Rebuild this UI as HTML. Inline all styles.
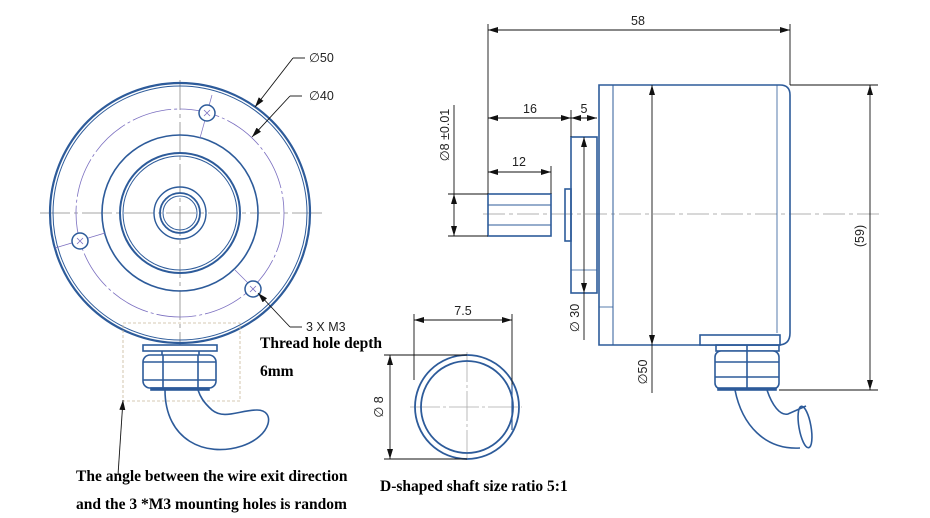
<!DOCTYPE html>
<html><head><meta charset="utf-8"><style>
html,body{margin:0;padding:0;background:#fff;}
svg{display:block;}
.s{font-family:"Liberation Sans",sans-serif;font-size:12.5px;fill:#222;}
.t{font-family:"Liberation Serif",serif;font-size:15.5px;font-weight:bold;fill:#000;}
</style></head><body>
<svg width="930" height="518" viewBox="0 0 930 518" xmlns="http://www.w3.org/2000/svg">
<defs>
<marker id="a" viewBox="0 0 10 6" refX="10" refY="3" markerWidth="10" markerHeight="6" orient="auto-start-reverse" markerUnits="userSpaceOnUse"><path d="M0,0 L10,3 L0,6 z" fill="#111"/></marker>
</defs>
<!-- FRONT VIEW -->
<g fill="none">
<line x1="40" y1="213" x2="322" y2="213" stroke="#888" stroke-width="0.8" stroke-dasharray="30,4,4,4"/>
<line x1="180" y1="80" x2="180" y2="345" stroke="#888" stroke-width="0.8" stroke-dasharray="30,4,4,4"/>
<circle cx="180" cy="213" r="130" stroke="#2d5b9a" stroke-width="2.2"/>
<circle cx="180" cy="213" r="127" stroke="#2d5b9a" stroke-width="1"/>
<circle cx="180" cy="213" r="104" stroke="#7b6fc0" stroke-width="0.8" stroke-dasharray="40,3,3,3"/>
<circle cx="180" cy="213" r="78" stroke="#2d5b9a" stroke-width="1.6"/>
<circle cx="180" cy="213" r="60" stroke="#2d5b9a" stroke-width="2"/>
<circle cx="180" cy="213" r="57" stroke="#2d5b9a" stroke-width="1"/>
<circle cx="180" cy="213" r="26" stroke="#2d5b9a" stroke-width="1.4"/>
<circle cx="180" cy="213" r="20" stroke="#2d5b9a" stroke-width="1.8"/>
<circle cx="180" cy="213" r="17" stroke="#2d5b9a" stroke-width="1"/>
<line x1="212" y1="95" x2="200" y2="138" stroke="#7b6fc0" stroke-width="0.7"/>
<line x1="55" y1="248" x2="105" y2="233" stroke="#7b6fc0" stroke-width="0.7"/>
<line x1="235" y1="270" x2="265" y2="300" stroke="#7b6fc0" stroke-width="0.7"/>
<g stroke="#2d5b9a" stroke-width="1.5" fill="#fff">
<circle cx="207" cy="113" r="8"/><circle cx="80" cy="241" r="8"/><circle cx="253" cy="289" r="8"/>
</g>
<g stroke="#7b6fc0" stroke-width="0.8">
<path d="M204,110 l6,6 M210,110 l-6,6 M77,238 l6,6 M83,238 l-6,6 M250,286 l6,6 M256,286 l-6,6"/>
</g>
<rect x="123" y="323" width="117" height="78" stroke="#c8b79a" stroke-width="0.8" stroke-dasharray="3,2"/>
<g stroke="#2d5b9a" stroke-width="1.6" fill="#fff">
<rect x="143" y="345" width="74" height="6"/>
<rect x="143" y="355" width="73" height="33" rx="7"/>
<line x1="143" y1="362" x2="216" y2="362"/><line x1="143" y1="380" x2="216" y2="380"/>
<line x1="163" y1="355" x2="163" y2="388"/><line x1="198" y1="355" x2="198" y2="388"/>
<line x1="162" y1="351" x2="162" y2="355"/><line x1="199" y1="351" x2="199" y2="355"/>
<rect x="151" y="388" width="58" height="2" fill="#2d5b9a"/>
<path d="M165,390 C165,440 205,458 242,446 C272,436 276,410 257,410 C240,410 224,420 212,410 C203,402 200,396 198,390" fill="none"/>
</g>
</g>
<g stroke="#111" stroke-width="0.9" fill="none">
<polyline points="293,58 305,58"/><line x1="293" y1="58" x2="255" y2="107" marker-end="url(#a)"/>
<polyline points="290,96 302,96"/><line x1="290" y1="96" x2="252" y2="137" marker-end="url(#a)"/>
<polyline points="290,327 302,327"/><line x1="290" y1="327" x2="258" y2="293" marker-end="url(#a)"/>
<line x1="118" y1="475" x2="123" y2="400" marker-end="url(#a)"/>
</g>
<text class="s" x="309" y="62">∅50</text>
<text class="s" x="309" y="100">∅40</text>
<text class="s" x="306" y="331">3 X M3</text>
<text class="t" x="260" y="348">Thread hole depth</text>
<text class="t" x="260" y="376">6mm</text>
<text class="t" x="76" y="481">The angle between the wire exit direction</text>
<text class="t" x="76" y="509">and the 3 *M3 mounting holes is random</text>

<!-- SIDE VIEW -->
<line x1="483" y1="214" x2="882" y2="214" stroke="#999" stroke-width="0.8" stroke-dasharray="22,4,4,4"/>
<g stroke="#2d5b9a" stroke-width="1.6" fill="none">
<path d="M599,85 L780,85 Q790,85 790,95 L790,333 Q790,345 778,345 L599,345 Z"/>
<line x1="613" y1="85" x2="613" y2="345" stroke-width="1"/>
<line x1="777" y1="85" x2="777" y2="333" stroke-width="0.8"/>
<line x1="599" y1="307" x2="613" y2="307" stroke-width="0.8"/>
<rect x="571" y="137" width="26" height="156"/>
<line x1="571" y1="270" x2="597" y2="270" stroke-width="0.8"/>
<rect x="565" y="189" width="6" height="52"/>
<rect x="488" y="194" width="63" height="42"/>
<line x1="488" y1="205" x2="551" y2="205" stroke-width="1"/>
<line x1="488" y1="225" x2="551" y2="225" stroke-width="1"/>
<rect x="700" y="335" width="80" height="10" fill="#fff"/>
<rect x="716" y="345" width="63" height="6"/>
<rect x="715" y="351" width="64" height="38" rx="6" fill="#fff"/>
<line x1="715" y1="362" x2="779" y2="362"/><line x1="715" y1="377" x2="779" y2="377"/>
<line x1="747" y1="345" x2="747" y2="389"/>
<rect x="718" y="388" width="58" height="2" fill="#2d5b9a"/>
<path d="M735,390 C742,425 765,450 800,448 M767,390 C772,405 780,416 788,414 L806,406"/>
<ellipse cx="805" cy="427" rx="6" ry="21" transform="rotate(-10 805 427)"/>
</g>
<g stroke="#111" stroke-width="0.9" fill="none">
<line x1="488" y1="24" x2="488" y2="194"/><line x1="790" y1="24" x2="790" y2="85"/>
<line x1="488" y1="30" x2="790" y2="30" marker-start="url(#a)" marker-end="url(#a)"/>
<line x1="488" y1="118" x2="571" y2="118" marker-start="url(#a)" marker-end="url(#a)"/>
<line x1="571" y1="110" x2="571" y2="137"/>
<line x1="571" y1="118" x2="597" y2="118" marker-start="url(#a)" marker-end="url(#a)"/>
<line x1="551" y1="166" x2="551" y2="194"/>
<line x1="488" y1="172" x2="551" y2="172" marker-start="url(#a)" marker-end="url(#a)"/>
<line x1="448" y1="194" x2="488" y2="194"/><line x1="448" y1="236" x2="488" y2="236"/>
<line x1="454" y1="105" x2="454" y2="194"/>
<line x1="454" y1="194" x2="454" y2="236" marker-start="url(#a)" marker-end="url(#a)"/>
<line x1="584" y1="137" x2="584" y2="293" marker-start="url(#a)" marker-end="url(#a)"/>
<line x1="584" y1="293" x2="584" y2="340"/>
<line x1="652" y1="85" x2="652" y2="345" marker-start="url(#a)" marker-end="url(#a)"/>
<line x1="652" y1="345" x2="652" y2="393"/>
<line x1="790" y1="85" x2="878" y2="85"/><line x1="779" y1="390" x2="878" y2="390"/>
<line x1="870" y1="85" x2="870" y2="390" marker-start="url(#a)" marker-end="url(#a)"/>
</g>
<text class="s" x="638" y="25" text-anchor="middle">58</text>
<text class="s" x="530" y="113" text-anchor="middle">16</text>
<text class="s" x="584" y="113" text-anchor="middle">5</text>
<text class="s" x="519" y="166" text-anchor="middle">12</text>
<text class="s" transform="translate(449,135) rotate(-90)" text-anchor="middle">∅8  ±0.01</text>
<text class="s" transform="translate(579,318) rotate(-90)" text-anchor="middle">∅  30</text>
<text class="s" transform="translate(647,372) rotate(-90)" text-anchor="middle">∅50</text>
<text class="s" transform="translate(864,236) rotate(-90)" text-anchor="middle">(59)</text>

<!-- D SHAFT -->
<g fill="none">
<line x1="410" y1="407" x2="522" y2="407" stroke="#aaa" stroke-width="0.8" stroke-dasharray="30,3,3,3"/>
<line x1="467" y1="352" x2="467" y2="462" stroke="#aaa" stroke-width="0.8" stroke-dasharray="30,3,3,3"/>
<circle cx="467" cy="407" r="52" stroke="#2d5b9a" stroke-width="1.8"/>
<circle cx="467" cy="407" r="46" stroke="#2d5b9a" stroke-width="1.8"/>
<line x1="512" y1="385" x2="512" y2="430" stroke="#2d5b9a" stroke-width="1.2"/>
</g>
<g stroke="#111" stroke-width="0.9" fill="none">
<line x1="414" y1="314" x2="414" y2="380"/><line x1="512" y1="314" x2="512" y2="385"/>
<line x1="414" y1="320" x2="512" y2="320" marker-start="url(#a)" marker-end="url(#a)"/>
<line x1="384" y1="355" x2="467" y2="355"/><line x1="384" y1="459" x2="467" y2="459"/>
<line x1="390" y1="355" x2="390" y2="459" marker-start="url(#a)" marker-end="url(#a)"/>
</g>
<text class="s" x="463" y="315" text-anchor="middle">7.5</text>
<text class="s" transform="translate(383,407) rotate(-90)" text-anchor="middle">∅  8</text>
<text class="t" x="380" y="491">D-shaped shaft size ratio 5:1</text>
</svg>
</body></html>
